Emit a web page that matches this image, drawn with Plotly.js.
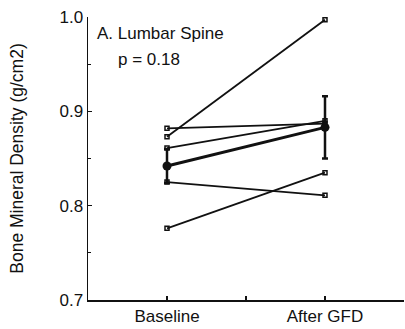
<!DOCTYPE html>
<html>
<head>
<meta charset="utf-8">
<script src="https://cdn.plot.ly/plotly-3.0.1.min.js"></script>
<style>html,body{margin:0;padding:0;background:#fff;}#chart{width:405px;height:329px;}</style>
</head>
<body>
<div id="chart"></div>
<script>
var timepoints = [0, 1];
var tickLabels = ['Baseline', '', 'After GFD'];
var tickPositions = [0, 0.5, 1];
var baseline = [0.873, 0.882, 0.861, 0.825, 0.776];
var afterGFD = [0.997, 0.887, 0.890, 0.811, 0.835];
var meanValues = [0.842, 0.883];
var meanSD = [0.018, 0.033];

var traces = [];
for (var i = 0; i < baseline.length; i++) {
  traces.push({
    x: timepoints, y: [baseline[i], afterGFD[i]],
    mode: 'lines+markers', type: 'scatter',
    line: {color: '#111', width: 1.8},
    marker: {symbol: 'square-open', size: 4, color: '#111', line: {width: 1.5, color: '#111'}},
    showlegend: false, hoverinfo: 'none'
  });
}
traces.push({
  x: timepoints, y: meanValues,
  mode: 'lines+markers', type: 'scatter',
  line: {color: '#111', width: 3},
  marker: {symbol: 'circle', size: 9, color: '#111'},
  error_y: {type: 'data', array: meanSD, visible: true, color: '#111', thickness: 2.5, width: 3},
  showlegend: false, hoverinfo: 'none'
});

var font = {family: 'Liberation Sans, Arial, sans-serif', size: 17, color: '#111'};
var layout = {
  width: 405, height: 329,
  margin: {l: 88, r: 1, t: 17, b: 29, pad: 0},
  paper_bgcolor: '#fff', plot_bgcolor: '#fff',
  font: font,
  showlegend: false,
  xaxis: {
    range: [-0.5, 1.5], showgrid: false, zeroline: false,
    showline: true, linecolor: '#111', linewidth: 1.5,
    tickmode: 'array', tickvals: tickPositions, ticktext: tickLabels,
    ticks: 'inside', ticklen: 4, tickwidth: 1.2, tickcolor: '#111',
    tickfont: font, ticklabelstandoff: 0
  },
  yaxis: {
    range: [0.7, 1.0], showgrid: false, zeroline: false,
    showline: true, linecolor: '#111', linewidth: 1.5,
    tickmode: 'array', tickvals: [0.7, 0.8, 0.9, 1.0], ticktext: ['0.7', '0.8', '0.9', '1.0'],
    ticks: 'inside', ticklen: 4, tickwidth: 1.2, tickcolor: '#111',
    minor: {tickvals: [0.75, 0.85, 0.95], ticks: 'inside', ticklen: 3, tickwidth: 1, tickcolor: '#111'},
    tickfont: font,
    title: {text: 'Bone Mineral Density (g/cm2)', font: {family: 'Liberation Sans, Arial, sans-serif', size: 17.5, color: '#111'}, standoff: 31}
  },
  annotations: [
    {text: 'A. Lumbar Spine', xref: 'paper', yref: 'paper', x: 0.022, y: 0.94, xanchor: 'left', yanchor: 'middle', showarrow: false, font: font},
    {text: 'p = 0.18', xref: 'paper', yref: 'paper', x: 0.088, y: 0.85, xanchor: 'left', yanchor: 'middle', showarrow: false, font: font}
  ]
};
Plotly.newPlot('chart', traces, layout, {displayModeBar: false, staticPlot: true});
</script>
</body>
</html>
